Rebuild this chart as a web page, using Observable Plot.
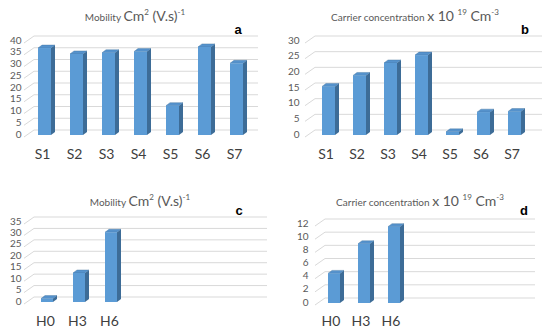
<!DOCTYPE html>
<html><head><meta charset="utf-8">
<script src="https://cdn.jsdelivr.net/npm/d3@7"></script>
<script src="https://cdn.jsdelivr.net/npm/@observablehq/plot@0.6"></script>
<style>
body{margin:0;background:#fff;}
#wrap{position:relative;width:550px;height:334px;overflow:hidden;font-family:Lato,"Open Sans",sans-serif;background:#fff;}
.panel{position:absolute;width:275px;height:167px;}
.panel svg{position:absolute;left:0;top:0;overflow:visible;}
.title{position:absolute;white-space:nowrap;color:#595959;transform:translate(-50%,-50%);line-height:1;}
.title .s{font-size:10px;}
.title .b{font-size:14px;}
.title sup{font-size:8px;vertical-align:6px;}
.letter{position:absolute;font-weight:bold;font-size:13px;color:#000;font-family:"Liberation Sans",Arial,sans-serif;transform:translate(-50%,-50%);}
</style></head><body><div id="wrap"></div>
<script>
// ---- data ----
const catsS = ["S1","S2","S3","S4","S5","S6","S7"];
const mobilityS = [37, 34.5, 35, 35.5, 12.5, 37.5, 30.5];
const carrierS = [15.5, 19, 23, 25.5, 1, 7.3, 7.5];
const catsH = ["H0","H3","H6"];
const mobilityH = [1.5, 12.7, 30.5];
const carrierH = [4.5, 9, 11.6];
const ticksMobS = [0,5,10,15,20,25,30,35,40];
const ticksCarS = [0,5,10,15,20,25,30];
const ticksMobH = [0,5,10,15,20,25,30,35];
const ticksCarH = [0,2,4,6,8,10,12];
const letters = ["a","b","c","d"];

// ---- layout ----
const mobTitle = '<span class="s">Mobility </span><span class="b">Cm<sup>2</sup> (V.s)<sup>-1</sup></span>';
const carTitle = '<span class="s">Carrier concentration </span><span class="b">x 10 <sup>19</sup> Cm<sup>-3</sup></span>';
const panels = [
  {left:0, top:0, cats:catsS, vals:mobilityS, ticks:ticksMobS, title:mobTitle, tx:135, ty:15, lx:238, ly:29,
   yRange:[135,41], xRange:[38,243], pad:0.594, ml:24, diag:24, wall:34, wallEnd:258, dxCat:-2.5},
  {left:275, top:0, cats:catsS, vals:carrierS, ticks:ticksCarS, title:carTitle, tx:140, ty:15, lx:250, ly:29,
   yRange:[135,41], xRange:[47,251], pad:0.59, ml:27, diag:30, wall:40, wallEnd:267, dxCat:-3},
  {left:0, top:167, cats:catsH, vals:mobilityH, ticks:ticksMobH, title:mobTitle, tx:140, ty:33, lx:239, ly:43,
   yRange:[135,55], xRange:[41,118.5], pad:0.615, ml:24, diag:24, wall:34, wallEnd:267, dxCat:-2},
  {left:275, top:167, cats:catsH, vals:carrierH, ticks:ticksCarH, title:carTitle, tx:145, ty:33, lx:249, ly:43,
   yRange:[136,57], xRange:[53,125], pad:0.6, ml:36, diag:40, wall:50, wallEnd:260, dxCat:-3.5}
];

const FRONT = "#5b9bd5", TOP = "#5592cc", SIDE = "#3d6c97", GRID = "#d9d9d9";
const DX = 4, DY = -3, WALLDY = -5;

function decor(p) {
  return (index, scales) => {
    const y = scales.y;
    const g = d3.create("svg:g");
    for (const t of p.ticks) {
      const yy = y(t);
      g.append("line").attr("x1", p.diag).attr("y1", yy + 2).attr("x2", p.wall).attr("y2", yy + WALLDY)
        .attr("stroke", GRID).attr("stroke-width", 1);
      g.append("line").attr("x1", p.wall).attr("y1", yy + WALLDY).attr("x2", p.wallEnd).attr("y2", yy + WALLDY)
        .attr("stroke", GRID).attr("stroke-width", 1);
    }
    return g.node();
  };
}
function faces(p) {
  return (index, scales) => {
    const {x, y} = scales;
    const bw = x.bandwidth ? x.bandwidth() : 13;
    const g = d3.create("svg:g");
    p.cats.forEach((c, i) => {
      const x0 = x(c), x1 = x0 + bw, y0 = y(0), y1 = y(p.vals[i]);
      g.append("path").attr("d", `M${x1},${y0}L${x1},${y1}L${x1+DX},${y1+DY}L${x1+DX},${y0+DY}Z`).attr("fill", SIDE);
      g.append("path").attr("d", `M${x0},${y1}L${x1},${y1}L${x1+DX},${y1+DY}L${x0+DX},${y1+DY}Z`).attr("fill", TOP)
        .attr("stroke", "#41719c").attr("stroke-width", 0.4);
    });
    return g.node();
  };
}

const wrap = document.getElementById("wrap");
panels.forEach((p, k) => {
  const div = document.createElement("div");
  div.className = "panel";
  div.style.left = p.left + "px";
  div.style.top = p.top + "px";
  wrap.appendChild(div);
  const rows = p.cats.map((c, i) => ({cat: c, val: p.vals[i]}));
  const mb = 167 - p.yRange[0];
  const svg = Plot.plot({
    width: 275, height: 167,
    marginLeft: p.ml, marginRight: 0, marginTop: 0, marginBottom: mb,
    style: {fontFamily: "Lato, 'Open Sans', sans-serif", fontSize: "10px", color: "#595959", background: "transparent", overflow: "visible"},
    x: {domain: p.cats, range: p.xRange, paddingInner: p.pad, paddingOuter: 0, align: 0,
        tickSize: 0, tickPadding: 149 - p.yRange[0], label: null},
    y: {domain: [p.ticks[0], p.ticks[p.ticks.length-1]], range: p.yRange, ticks: p.ticks, tickSize: 0, tickPadding: 3, label: null, nice: false},
    marks: [
      decor(p),
      faces(p),
      Plot.barY(rows, {x: "cat", y: "val", fill: FRONT})
    ]
  });
  div.appendChild(svg);
  d3.select(svg).selectAll('g[aria-label^="x-axis"] text')
    .attr("dx", p.dxCat).style("font-size", "14px").style("fill", "#404040");
  d3.select(svg).selectAll('g[aria-label^="y-axis"] text')
    .attr("y", function() { return (+this.getAttribute("y") || 0) + 2; });
  const t = document.createElement("div");
  t.className = "title";
  t.style.left = p.tx + "px"; t.style.top = p.ty + "px";
  t.innerHTML = p.title;
  div.appendChild(t);
  const l = document.createElement("div");
  l.className = "letter";
  l.style.left = p.lx + "px"; l.style.top = p.ly + "px";
  l.textContent = letters[k];
  div.appendChild(l);
});
</script></body></html>
